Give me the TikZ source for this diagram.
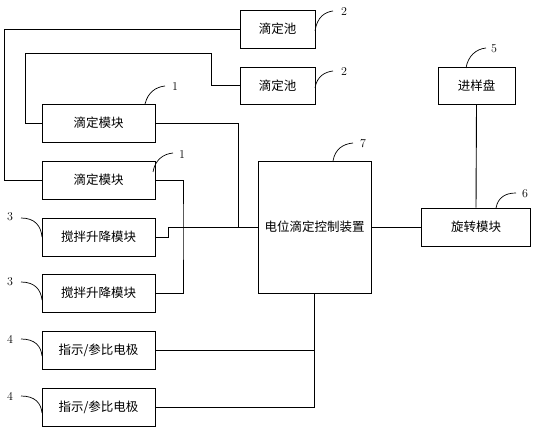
\documentclass[tikz,border=0pt]{standalone}
\usepackage{fontspec}
\newfontfamily\cjk{Noto Sans CJK SC}
\begin{document}
\begin{tikzpicture}[x=1pt,y=-1pt]
\tikzset{
  box/.style={draw, line width=0.9pt, minimum width=113pt, minimum height=38pt, inner sep=0pt, font=\cjk\fontsize{12.5}{13}\selectfont},
  wire/.style={line width=0.9pt},
  lead/.style={line width=0.7pt},
  num/.style={font=\fontsize{12}{12}\selectfont, inner sep=0pt}
}
\useasboundingbox (0,0) rectangle (540,430);
% boxes
\node[box, minimum width=75pt] (pool1) at (277.5,29) {滴定池};
\node[box, minimum width=75pt, minimum height=37pt] (pool2) at (277.5,85.5) {滴定池};
\node[box] (mod1) at (98.5,123) {滴定模块};
\node[box] (mod2) at (98.5,180) {滴定模块};
\node[box] (stir1) at (98.5,237) {搅拌升降模块};
\node[box] (stir2) at (98.5,293) {搅拌升降模块};
\node[box] (ele1) at (98.5,350) {指示/参比电极};
\node[box] (ele2) at (98.5,407) {指示/参比电极};
\node[box, minimum height=132pt] (ctrl) at (314.5,227) {电位滴定控制装置};
\node[box, minimum width=77pt, minimum height=37pt] (tray) at (476.5,86) {进样盘};
\node[box, minimum width=109pt] (rot) at (476,227) {旋转模块};
% bend coordinates
\coordinate (c1) at (4,29);
\coordinate (c2) at (211,53);
\coordinate (c3) at (25,53);
\coordinate (c4) at (238,227);
\coordinate (c5) at (168,237);
\coordinate (c6) at (168,227);
\coordinate (c7) at (183,227);
% wires
\draw[wire] (pool1.west) -- (c1) |- (mod2.west);
\draw[wire] (pool2.west) -| (c2) -- (c3) |- (mod1.west);
\draw[wire] (mod1.east) -| (c4);
\draw[wire] (stir1.east) -- (c5) -- (c6) -- (ctrl.west);
\draw[wire] (mod2.east) -| (c7) |- (stir2.east);
\draw[wire] (ctrl.east) -- (rot.west);
\draw[wire] (tray.south) -- (rot.north);
\draw[wire] (ctrl.south) |- (ele2.east);
\draw[wire] (ele1.east) -- (ele1.east -| ctrl.south);
% leaders and numbers
\draw[lead] (315,31) .. controls (317,17) and (325,12) .. (333,11);
\node[num] (n2a) at (344,12) {2};
\draw[lead] (315,88) .. controls (317,76) and (325,72) .. (333,71);
\node[num] (n2b) at (344,72) {2};
\draw[lead] (145,104) .. controls (148,92) and (156,87) .. (165,86);
\node[num] (n1a) at (175,87) {1};
\draw[lead] (153,172) .. controls (155,160) and (163,154) .. (173,153);
\node[num] (n1b) at (182,155) {1};
\draw[lead] (21,218) .. controls (35,218) and (41,226) .. (42,237);
\node[num] (n3a) at (10,217) {3};
\draw[lead] (21,282) .. controls (35,282) and (41,290) .. (42,300);
\node[num] (n3b) at (10,282) {3};
\draw[lead] (21,339) .. controls (35,339) and (41,346) .. (42,356);
\node[num] (n4a) at (10,339) {4};
\draw[lead] (21,396) .. controls (35,396) and (41,403) .. (42,413);
\node[num] (n4b) at (10,396) {4};
\draw[lead] (333,161) .. controls (335,149) and (343,144) .. (353,143);
\node[num] (n7) at (363,144) {7};
\draw[lead] (466,68) .. controls (468,56) and (476,49) .. (486,48);
\node[num] (n5) at (494,49) {5};
\draw[lead] (496,208) .. controls (498,197) and (506,193) .. (516,193);
\node[num] (n6) at (525,194) {6};
\end{tikzpicture}
\end{document}
